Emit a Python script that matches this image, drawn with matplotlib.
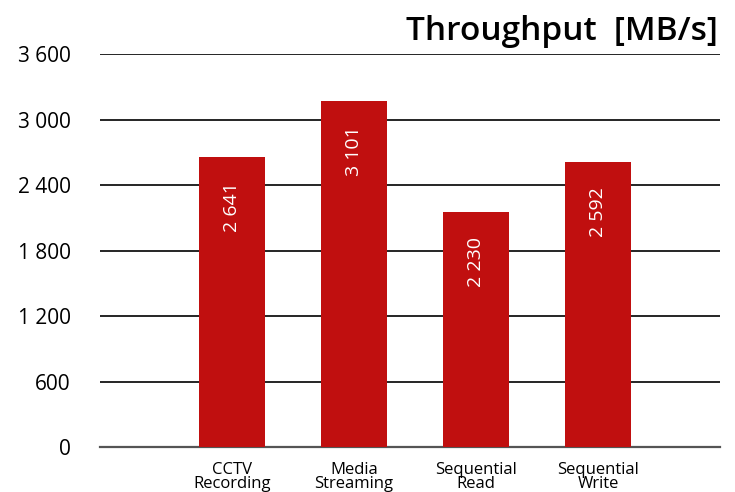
import matplotlib.pyplot as plt
import numpy as np

plt.rcParams["font.family"] = ["Open Sans", "DejaVu Sans"]

# Data
categories = ["CCTV\nRecording", "Media\nStreaming", "Sequential\nRead", "Sequential\nWrite"]
bar_heights = [2656, 3169, 2153, 2611]
bar_labels = ["2 641", "3 101", "2 230", "2 592"]
yticks = [0, 600, 1200, 1800, 2400, 3000, 3600]
ytick_labels = ["0", "600", "1 200", "1 800", "2 400", "3 000", "3 600"]

fig = plt.figure(figsize=(7.35, 4.92), dpi=100)
ax = fig.add_axes([0.136, 0.0915, 0.844, 0.7985])

x = np.arange(len(categories))
ax.bar(x, bar_heights, width=0.54, color="#C00F0F", zorder=3)

for xi, h, lab in zip(x, bar_heights, bar_labels):
    ax.annotate(lab, (xi, h), xytext=(0, -36), textcoords="offset points",
                rotation=90, ha="center", va="center", color="white",
                fontsize=14, zorder=4)

ax.set_ylim(0, 3600)
ax.set_xlim(-1.08, 4.0)
ax.set_yticks(yticks)
ax.set_yticklabels(ytick_labels, fontsize=15)
ax.set_xticks(x)
ax.set_xticklabels(categories, fontsize=12, linespacing=0.8)

ax.tick_params(axis="y", length=0, pad=21)
ax.tick_params(axis="x", length=0, pad=11)

for s in ["left", "right", "top"]:
    ax.spines[s].set_visible(False)
ax.spines["bottom"].set_color("#555555")
ax.spines["bottom"].set_linewidth(1.6)

ax.yaxis.grid(True, color="black", linewidth=1.2, zorder=0)
ax.set_axisbelow(True)

fig.text(0.977, 0.918, "Throughput  [MB/s]", ha="right", va="baseline",
         fontsize=24, fontweight="semibold")

fig.savefig("out.png", dpi=100)
